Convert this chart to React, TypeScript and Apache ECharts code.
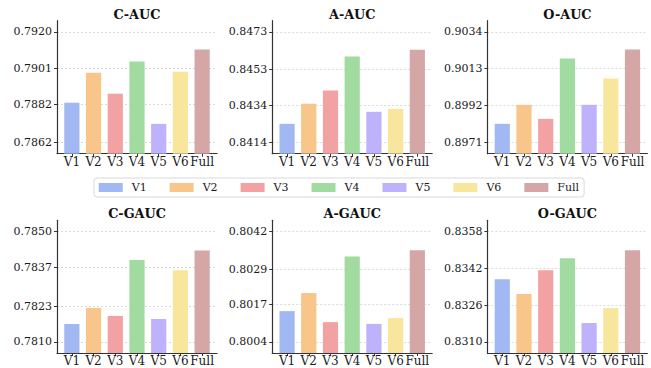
import React, { useEffect, useRef } from "react";
import * as echarts from "echarts";

const categories = ["V1", "V2", "V3", "V4", "V5", "V6", "Full"];
const barColors = ["#a1b8f2", "#f8c58a", "#f2a2a2", "#a2dba0", "#bdb2fb", "#f8e69c", "#d4a6a6"];

const titles = ["C-AUC", "A-AUC", "O-AUC", "C-GAUC", "A-GAUC", "O-GAUC"];

const cAuc = [0.78829, 0.78986, 0.78876, 0.79044, 0.78718, 0.78991, 0.79107];
const aAuc = [0.8424, 0.84347, 0.84418, 0.84598, 0.84304, 0.8432, 0.84635];
const oAuc = [0.89817, 0.89925, 0.89845, 0.90188, 0.89925, 0.90074, 0.90239];
const cGauc = [0.78165, 0.78223, 0.78194, 0.78396, 0.78183, 0.78359, 0.78431];
const aGauc = [0.80146, 0.80208, 0.80108, 0.80334, 0.80102, 0.80122, 0.80355];
const oGauc = [0.83372, 0.83308, 0.83411, 0.83463, 0.83182, 0.83247, 0.83498];

const cAucTicks = [0.7862, 0.7882, 0.7901, 0.792];
const aAucTicks = [0.8414, 0.8434, 0.8453, 0.8473];
const oAucTicks = [0.8971, 0.8992, 0.9013, 0.9034];
const cGaucTicks = [0.781, 0.7823, 0.7837, 0.785];
const aGaucTicks = [0.8004, 0.8017, 0.8029, 0.8042];
const oGaucTicks = [0.831, 0.8326, 0.8342, 0.8358];

const panelValues = [cAuc, aAuc, oAuc, cGauc, aGauc, oGauc];
const panelTicks = [cAucTicks, aAucTicks, oAucTicks, cGaucTicks, aGaucTicks, oGaucTicks];

const FONT = "'DejaVu Serif', 'Liberation Serif', serif";
const colLeft = [57, 272.2, 487.4];
const rowTop = [20.7, 220.3];
const rowHeight = [133, 132.7];
const panelWidth = 160;
const band = panelWidth / 7.37;
const PAD = 0.3;

export default function App() {
  const ref = useRef<HTMLDivElement>(null);

  useEffect(() => {
    if (!ref.current) return;
    const chart = echarts.init(ref.current, null, { renderer: "svg" });

    const grid: any[] = [];
    const xAxis: any[] = [];
    const yAxis: any[] = [];
    const series: any[] = [];
    const graphic: any[] = [];

    titles.forEach((title, p) => {
      const row = Math.floor(p / 3);
      const col = p % 3;
      const ticks = panelTicks[p];
      const d = (ticks[3] - ticks[0]) / 3;
      const yMin = ticks[0] - PAD * d;
      const yMax = ticks[3] + PAD * d;
      const left = colLeft[col];
      const top = rowTop[row];
      const height = rowHeight[row];

      grid.push({ left, top, width: panelWidth, height, outerBoundsMode: "none", containLabel: false });
      grid.push({
        left: left + 0.185 * band,
        top,
        width: 7 * band,
        height,
        outerBoundsMode: "none",
        containLabel: false,
      });
      const gw = 2 * p;
      const gn = 2 * p + 1;

      xAxis.push({
        gridIndex: gw,
        type: "value",
        min: 0,
        max: 1,
        axisLine: { show: true, onZero: false, lineStyle: { color: "#333", width: 1.2 } },
        axisTick: { show: false },
        axisLabel: { show: false },
        splitLine: { show: false },
      });
      xAxis.push({
        gridIndex: gn,
        type: "category",
        data: categories,
        axisLine: { show: false },
        axisTick: { show: true, alignWithLabel: true, length: 3, lineStyle: { color: "#333", width: 1 } },
        axisLabel: { show: true, interval: 0, margin: 2, fontFamily: FONT, fontSize: 12, color: "#1a1a1a" },
        splitLine: { show: false },
      });

      yAxis.push({
        gridIndex: gw,
        type: "value",
        min: yMin,
        max: yMax,
        axisLine: { show: true, lineStyle: { color: "#333", width: 1.2 } },
        axisTick: { show: true, length: 3, customValues: ticks, lineStyle: { color: "#333", width: 1 } },
        axisLabel: {
          show: true,
          customValues: ticks,
          margin: 5,
          fontFamily: FONT,
          fontSize: 11,
          color: "#1a1a1a",
          formatter: (v: number) => v.toFixed(4),
        },
        splitLine: { show: true, lineStyle: { color: "#cfcfcf", width: 0.8, type: [2, 2] } },
      });
      yAxis.push({
        gridIndex: gn,
        type: "value",
        min: yMin,
        max: yMax,
        show: false,
        splitLine: { show: false },
      });

      categories.forEach((name, i) => {
        series.push({
          type: "bar",
          name,
          xAxisIndex: gn,
          yAxisIndex: gn,
          barWidth: 0.7 * band,
          barGap: "-100%",
          data: panelValues[p].map((v, j) => (j === i ? v : "-")),
          itemStyle: { color: barColors[i] },
          emphasis: { disabled: true },
        });
      });

      graphic.push({
        type: "text",
        x: left + panelWidth / 2,
        y: row === 0 ? 14 : 213.3,
        style: {
          text: title,
          textAlign: "center",
          textVerticalAlign: "middle",
          fontFamily: FONT,
          fontWeight: "bold",
          fontSize: 12.8,
          fill: "#111",
        },
      });
    });

    chart.setOption({
      animation: false,
      backgroundColor: "#ffffff",
      grid,
      xAxis,
      yAxis,
      series,
      graphic,
      legend: {
        data: categories,
        left: 94,
        top: 178,
        orient: "horizontal",
        icon: "rect",
        itemWidth: 24,
        itemHeight: 9,
        itemGap: 23,
        padding: [4, 5, 4, 4.7],
        borderColor: "#d9d9d9",
        borderWidth: 1,
        borderRadius: 3,
        backgroundColor: "#ffffff",
        selectedMode: false,
        textStyle: { fontFamily: FONT, fontSize: 11, color: "#1a1a1a", padding: [0, 0, 0, 4] },
      },
    });

    return () => chart.dispose();
  }, []);

  return (
    <div
      ref={ref}
      style={{ position: "fixed", left: 0, top: 0, width: 651, height: 368, background: "#fff" }}
    />
  );
}
